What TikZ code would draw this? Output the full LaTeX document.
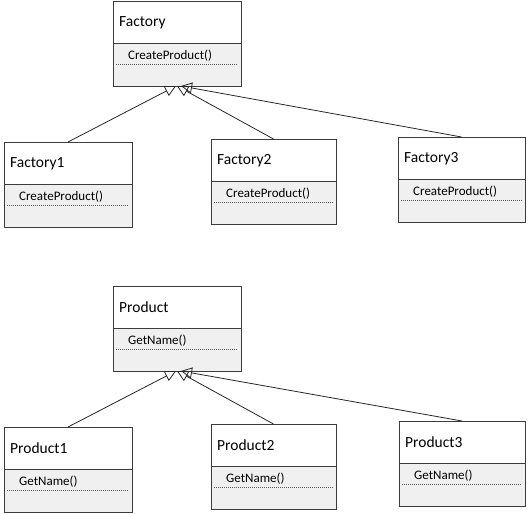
\documentclass[tikz,border=0pt]{standalone}
\usepackage{fontspec}
\setmainfont{Carlito}
\usetikzlibrary{positioning, arrows.meta}

\definecolor{opfill}{HTML}{F0F0F0}
\definecolor{boxline}{HTML}{3C3C3C}

\tikzset{
  classhead/.style={draw=boxline, fill=white, line width=0.9pt, minimum height=42pt,
    inner sep=0pt, outer sep=0pt, anchor=north west},
  classbody/.style={draw=boxline, fill=opfill, line width=0.9pt, minimum height=43pt,
    inner sep=0pt, outer sep=0pt},
  classname/.style={anchor=west, inner sep=0pt, font=\fontsize{15.5}{18}\selectfont},
  opname/.style={anchor=west, inner sep=0pt, font=\fontsize{13}{15}\selectfont},
  opline/.style={draw=black!65, line width=0.8pt, dash pattern=on 1pt off 1pt},
  inherit/.style={draw=black!85, line width=0.8pt, -{Triangle[open, length=11pt, width=11pt]}}
}

% one class box: name, top-left corner, width, class name, operation
\newcommand{\umlclass}[5]{%
  \node[classhead, minimum width=#3] (#1) at (#2) {};
  \node[classbody, minimum width=#3, below=0pt of #1] (#1-ops) {};
  \node[classname] (#1-name) at ([xshift=6pt, yshift=-21.5pt]#1.north west) {#4};
  \node[opname] (#1-op) at ([xshift=15pt, yshift=-12.5pt]#1-ops.north west) {#5};
  \draw[opline] ([xshift=3pt, yshift=-21pt]#1-ops.north west) -- ([xshift=-3pt, yshift=-21pt]#1-ops.north east);
}

\begin{document}
\begin{tikzpicture}[x=1pt, y=-1pt]
  \useasboundingbox (0,0) rectangle (529,513);

  % Factory hierarchy
  \umlclass{Factory}{113,1}{128pt}{Factory}{CreateProduct()}
  \umlclass{FactoryA}{4,142}{128pt}{Factory1}{CreateProduct()}
  \umlclass{FactoryB}{211,139}{125pt}{Factory2}{CreateProduct()}
  \umlclass{FactoryC}{398,137}{127pt}{Factory3}{CreateProduct()}

  \draw[inherit] (FactoryA.north) -- ([xshift=-1pt]Factory-ops.south);
  \draw[inherit] (FactoryB.north) -- ([xshift=0pt]Factory-ops.south);
  \draw[inherit] (FactoryC.north) -- ([xshift=4pt]Factory-ops.south);

  % Product hierarchy
  \umlclass{Product}{113,286}{128pt}{Product}{GetName()}
  \umlclass{ProductA}{4,427}{128pt}{Product1}{GetName()}
  \umlclass{ProductB}{211,424}{125pt}{Product2}{GetName()}
  \umlclass{ProductC}{399,421}{126pt}{Product3}{GetName()}

  \draw[inherit] (ProductA.north) -- ([xshift=-1pt]Product-ops.south);
  \draw[inherit] (ProductB.north) -- ([xshift=0pt]Product-ops.south);
  \draw[inherit] (ProductC.north) -- ([xshift=4pt]Product-ops.south);

\end{tikzpicture}
\end{document}
